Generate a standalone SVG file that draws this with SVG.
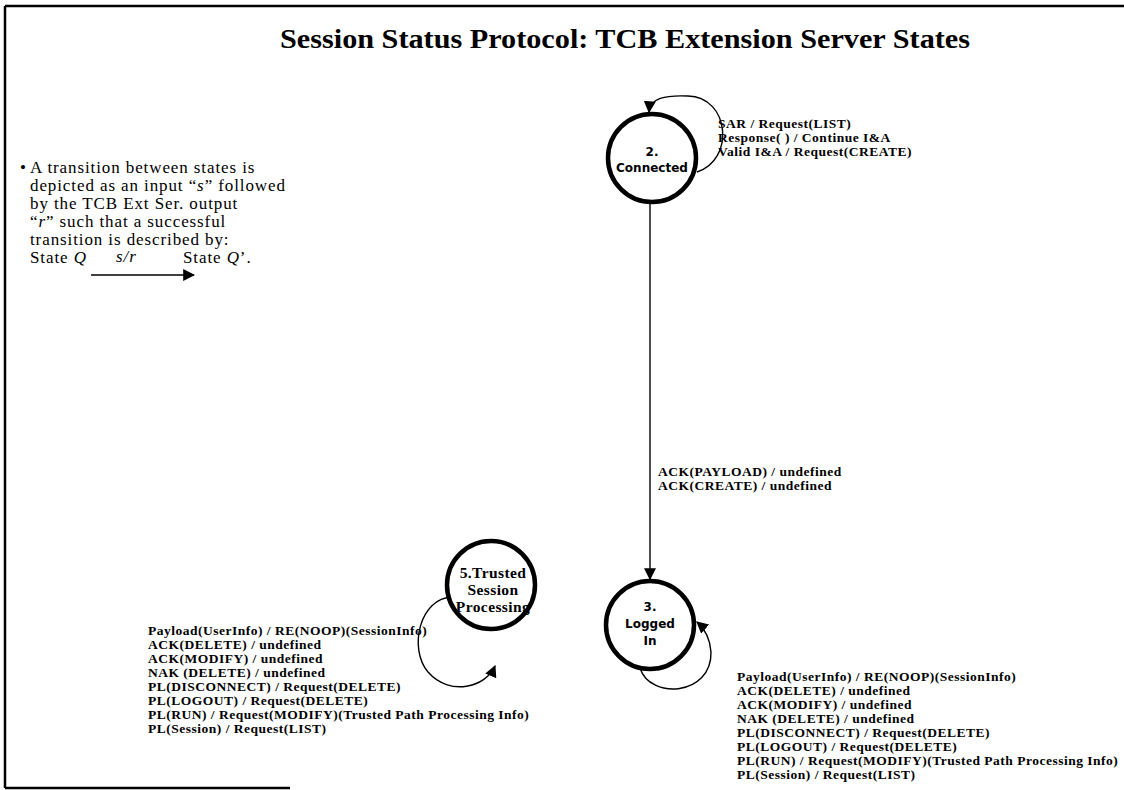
<svg xmlns="http://www.w3.org/2000/svg" width="1124" height="790" viewBox="0 0 1124 790">
<defs>
<marker id="ah" viewBox="0 0 10 10" refX="9" refY="5" markerWidth="12" markerHeight="12" markerUnits="userSpaceOnUse" orient="auto">
<path d="M0,0 L10,5 L0,10 z" fill="#000"/>
</marker>
<style>
.frame{stroke:#000;stroke-width:2.5;fill:none}
.state{fill:#fff;stroke:#000;stroke-width:4.5}
.edge{fill:none;stroke:#000;stroke-width:1.4}
.lbl{font-family:"Liberation Serif",serif;font-weight:bold;font-size:13.5px;letter-spacing:0.5px;fill:#000}
.nsans{font-family:"DejaVu Sans",sans-serif;font-weight:bold;font-size:12px;fill:#000;text-anchor:middle}
.nser{font-family:"Liberation Serif",serif;font-weight:bold;font-size:15.5px;letter-spacing:0.4px;fill:#000;text-anchor:middle}
.desc{font-family:"Liberation Serif",serif;font-size:17px;letter-spacing:0.9px;fill:#000}
.title{font-family:"Liberation Serif",serif;font-weight:bold;font-size:27px;fill:#000}
</style>
</defs>
<rect width="1124" height="790" fill="#fff"/>
<g id="frame">
<line class="frame" x1="5" y1="6" x2="1124" y2="6"/>
<line class="frame" x1="5" y1="6" x2="5" y2="788"/>
<line class="frame" x1="5" y1="788" x2="290" y2="788"/>
</g>
<text class="title" x="625" y="48" text-anchor="middle" textLength="690" lengthAdjust="spacingAndGlyphs">Session Status Protocol: TCB Extension Server States</text>
<g id="legend">
<text class="desc" x="20" y="173">•</text>
<text class="desc" x="30" y="173">A transition between states is</text>
<text class="desc" x="30" y="191">depicted as an input “<tspan font-style="italic">s</tspan>” followed</text>
<text class="desc" x="30" y="209">by the TCB Ext Ser. output</text>
<text class="desc" x="30" y="227">“<tspan font-style="italic">r</tspan>” such that a successful</text>
<text class="desc" x="30" y="245">transition is described by:</text>
<text class="desc" x="30" y="263">State <tspan font-style="italic">Q</tspan></text>
<text class="desc" x="116" y="262" font-style="italic" font-size="14px" letter-spacing="0.5px">s/r</text>
<text class="desc" x="183" y="263">State <tspan font-style="italic">Q</tspan>’.</text>
<line class="edge" x1="91" y1="275" x2="194" y2="275" marker-end="url(#ah)"/>
</g>
<g id="connectors">
<path class="edge" d="M697,172 C735,160 730,97 688,96 C665,95 650,98 649,112" marker-end="url(#ah)"/>
<line class="edge" x1="650" y1="203" x2="650" y2="579" marker-end="url(#ah)"/>
<path class="edge" d="M640,668 C650,700 712,696 711,652 C710,638 705,629 697,622" marker-end="url(#ah)"/>
<path class="edge" d="M452,597 C420,598 408,648 428,672 C450,697 486,687 495,666" marker-end="url(#ah)"/>
<g id="edge-labels">
<text class="lbl" x="718" y="128">SAR / Request(LIST)</text>
<text class="lbl" x="718" y="142">Response( ) / Continue I&amp;A</text>
<text class="lbl" x="718" y="156">Valid I&amp;A / Request(CREATE)</text>
<text class="lbl" x="658" y="476">ACK(PAYLOAD) / undefined</text>
<text class="lbl" x="658" y="490">ACK(CREATE) / undefined</text>
<text class="lbl" x="148" y="635">Payload(UserInfo) / RE(NOOP)(SessionInfo)</text>
<text class="lbl" x="148" y="649">ACK(DELETE) / undefined</text>
<text class="lbl" x="148" y="663">ACK(MODIFY) / undefined</text>
<text class="lbl" x="148" y="677">NAK (DELETE) / undefined</text>
<text class="lbl" x="148" y="691">PL(DISCONNECT) / Request(DELETE)</text>
<text class="lbl" x="148" y="705">PL(LOGOUT) / Request(DELETE)</text>
<text class="lbl" x="148" y="719">PL(RUN) / Request(MODIFY)(Trusted Path Processing Info)</text>
<text class="lbl" x="148" y="733">PL(Session) / Request(LIST)</text>
<text class="lbl" x="737" y="681">Payload(UserInfo) / RE(NOOP)(SessionInfo)</text>
<text class="lbl" x="737" y="695">ACK(DELETE) / undefined</text>
<text class="lbl" x="737" y="709">ACK(MODIFY) / undefined</text>
<text class="lbl" x="737" y="723">NAK (DELETE) / undefined</text>
<text class="lbl" x="737" y="737">PL(DISCONNECT) / Request(DELETE)</text>
<text class="lbl" x="737" y="751">PL(LOGOUT) / Request(DELETE)</text>
<text class="lbl" x="737" y="765">PL(RUN) / Request(MODIFY)(Trusted Path Processing Info)</text>
<text class="lbl" x="737" y="779">PL(Session) / Request(LIST)</text>
</g>
</g>
<g id="node-connected">
<circle class="state" cx="652" cy="158" r="44"/>
<text class="nsans" x="652" y="156">2.</text>
<text class="nsans" x="652" y="172">Connected</text>
</g>
<g id="node-logged-in">
<circle class="state" cx="650" cy="625" r="44"/>
<text class="nsans" x="650" y="611">3.</text>
<text class="nsans" x="650" y="628">Logged</text>
<text class="nsans" x="650" y="645">In</text>
</g>
<g id="node-trusted">
<circle class="state" cx="491" cy="585" r="44"/>
<text class="nser" x="493" y="578">5.Trusted</text>
<text class="nser" x="493" y="595">Session</text>
<text class="nser" x="493" y="612">Processing</text>
</g>
</svg>
